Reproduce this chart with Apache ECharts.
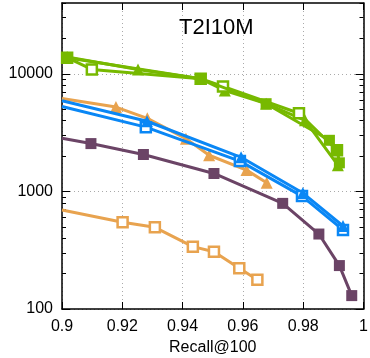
<!DOCTYPE html>
<html><head><meta charset="utf-8">
<script src="https://cdn.jsdelivr.net/npm/echarts@6/dist/echarts.min.js"></script>
<style>html,body{margin:0;padding:0;background:#fff}#c{width:370px;height:358px}</style>
</head><body><div id="c"></div>
<script>
// Recall@100 (x) and value (y, log) per series
const greenFilledX = [0.9017, 0.9460, 0.9677, 0.9887, 0.9913, 0.9920];
const greenFilledY = [13700, 9070, 5570, 2720, 2240, 1750];
const greenHollowX = [0.9017, 0.9099, 0.9460, 0.9534, 0.9786, 0.9912];
const greenHollowY = [13700, 10900, 9070, 7800, 4620, 2240];
const greenTriX = [0.9017, 0.9252, 0.9460, 0.9540, 0.9677, 0.9806, 0.9915];
const greenTriY = [13900, 10900, 9070, 7210, 5570, 4020, 1670];
const blueTriX = [0.9, 0.9282, 0.9594, 0.9799, 0.9932];
const blueTriY = [5900, 3950, 1950, 968, 508];
const blueSqX = [0.9, 0.9278, 0.9590, 0.9796, 0.9932];
const blueSqY = [5280, 3520, 1810, 912, 470];
const orangeTriX = [0.9, 0.9179, 0.9283, 0.9411, 0.9488, 0.9612, 0.9679];
const orangeTriY = [6170, 5210, 4180, 2810, 2030, 1517, 1183];
const orangeSqX = [0.9, 0.9201, 0.9308, 0.9434, 0.9504, 0.9588, 0.9648];
const orangeSqY = [695, 546, 495, 339, 307, 222, 177];
const purpleX = [0.9, 0.9096, 0.9270, 0.9504, 0.9732, 0.9852, 0.9920, 0.9961];
const purpleY = [2830, 2550, 2060, 1420, 791, 434, 234, 130];
const xTicks = [0.9, 0.92, 0.94, 0.96, 0.98, 1];
const yMajor = [100, 1000, 10000];
const yMinor = [200,300,400,500,600,700,800,900,2000,3000,4000,5000,6000,7000,8000,9000,20000,30000,40000];
const chartTitle = 'T2I10M';
const xName = 'Recall@100';

const C = {green:'#77b900', blue:'#0a87f5', orange:'#e8a34f', purple:'#6b4466'};
function pts(xs, ys, firstNone){
  return xs.map((x,i)=> (firstNone && i===0 && x===0.9) ? {value:[x,ys[i]], symbol:'none'} : [x, ys[i]]);
}
function ser(xs, ys, color, symbol, size, z){
  const hollow = symbol === 'emptyRect';
  return {type:'line', data:pts(xs,ys,true), symbol: hollow ? 'rect' : symbol, symbolSize:size,
    showSymbol:true, clip:true, z:z,
    lineStyle:{color:color, width:3},
    itemStyle: hollow ? {color:'#fff', borderColor:color, borderWidth:2.5} : {color:color, borderWidth:0},
    emphasis:{disabled:true}, animation:false};
}
const font = 'Liberation Sans, Arial, sans-serif';
const baseY = {type:'log', logBase:10, min:100, max:40000, gridIndex:0};
const chart = echarts.init(document.getElementById('c'), null, {renderer:'canvas'});
chart.setOption({
  animation:false,
  title:{text:chartTitle, left:174, top:12, textStyle:{fontFamily:font, fontSize:22, fontWeight:'normal', color:'#000'}},
  grid:{left:62, right:6.5, top:3, bottom:49, containLabel:false, outerBoundsMode:'none'},
  xAxis:[
    {type:'value', min:0.9, max:1, interval:0.02, position:'bottom',
     name:xName, nameLocation:'middle', nameGap:20, nameTextStyle:{fontFamily:font, fontSize:16, color:'#000', verticalAlign:'top'},
     axisLine:{lineStyle:{color:'#000', width:1.5}}, axisTick:{inside:true, length:7, lineStyle:{color:'#000'}, customValues: xTicks},
     axisLabel:{fontFamily:font, fontSize:16, color:'#000', margin:10, customValues: xTicks, formatter:v=>String(+v.toFixed(2))},
     splitLine:{show:true, lineStyle:{color:'#aaa', type:[1,3], width:1}}},
    {type:'value', min:0.9, max:1, interval:0.02, position:'top',
     axisLine:{lineStyle:{color:'#000', width:1.5}}, axisTick:{inside:true, length:7, lineStyle:{color:'#000'}},
     axisLabel:{show:false}, splitLine:{show:false}}
  ],
  yAxis:[
    Object.assign({}, baseY, {position:'left',
      axisLine:{show:true, lineStyle:{color:'#000', width:1.5}},
      axisTick:{inside:true, length:8, customValues:yMajor, lineStyle:{color:'#000'}},
      axisLabel:{fontFamily:font, fontSize:16, color:'#000', margin:9, customValues:yMajor, formatter:v=>String(Math.round(v))},
      splitLine:{show:true, lineStyle:{color:'#aaa', type:[1,3], width:1}}}),
    Object.assign({}, baseY, {position:'left',
      axisLine:{show:false},
      axisTick:{inside:true, length:4, customValues:yMinor, lineStyle:{color:'#000'}},
      axisLabel:{show:false}, splitLine:{show:false}}),
    Object.assign({}, baseY, {position:'right',
      axisLine:{show:true, lineStyle:{color:'#000', width:1.5}},
      axisTick:{inside:true, length:8, customValues:yMajor, lineStyle:{color:'#000'}},
      axisLabel:{show:false}, splitLine:{show:false}}),
    Object.assign({}, baseY, {position:'right',
      axisLine:{show:false},
      axisTick:{inside:true, length:4, customValues:yMinor, lineStyle:{color:'#000'}},
      axisLabel:{show:false}, splitLine:{show:false}})
  ],
  series:[
    ser(orangeSqX, orangeSqY, C.orange, 'emptyRect', 10, 2),
    ser(orangeTriX, orangeTriY, C.orange, 'triangle', 12, 2),
    ser(purpleX, purpleY, C.purple, 'rect', 11, 3),
    ser(blueSqX, blueSqY, C.blue, 'emptyRect', 10, 4),
    ser(blueTriX, blueTriY, C.blue, 'triangle', 12, 4),
    ser(greenTriX, greenTriY, C.green, 'triangle', 12, 5),
    ser(greenHollowX, greenHollowY, C.green, 'emptyRect', 10, 5),
    ser(greenFilledX, greenFilledY, C.green, 'rect', 11, 6)
  ]
});
</script></body></html>
